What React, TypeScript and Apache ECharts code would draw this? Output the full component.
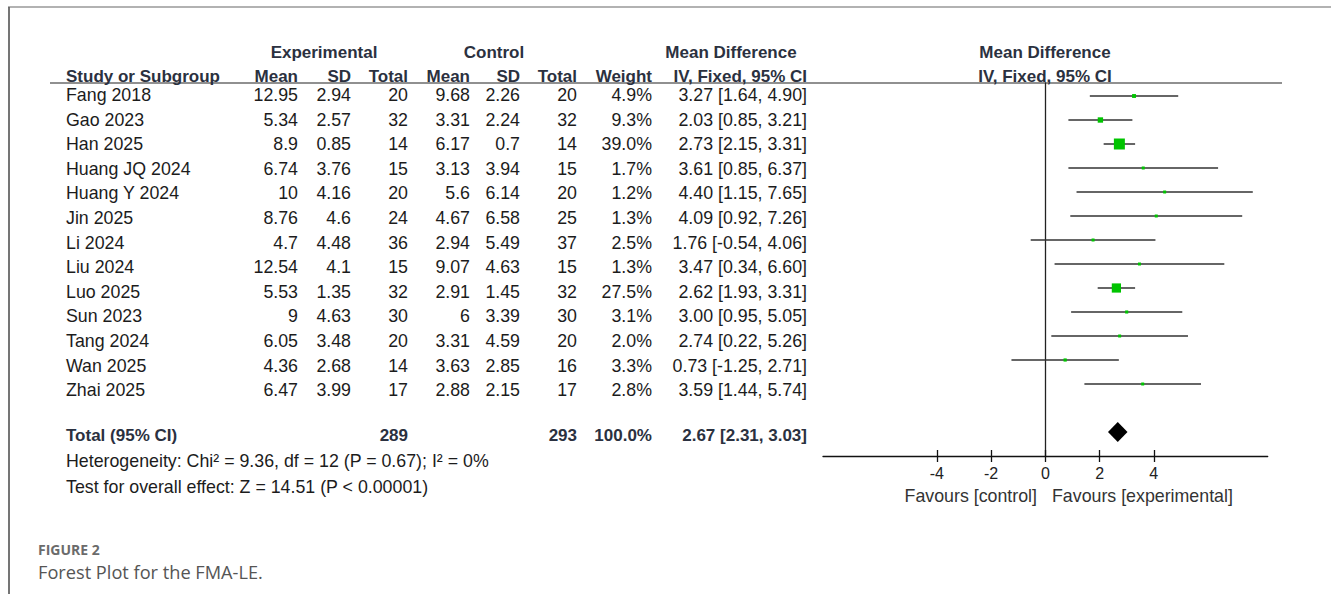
import React, { useEffect, useRef } from "react";
import * as echarts from "echarts";

const studies = ["Fang 2018", "Gao 2023", "Han 2025", "Huang JQ 2024", "Huang Y 2024", "Jin 2025", "Li 2024", "Liu 2024", "Luo 2025", "Sun 2023", "Tang 2024", "Wan 2025", "Zhai 2025"];
const expMean = [12.95, 5.34, 8.9, 6.74, 10, 8.76, 4.7, 12.54, 5.53, 9, 6.05, 4.36, 6.47];
const expSD = [2.94, 2.57, 0.85, 3.76, 4.16, 4.6, 4.48, 4.1, 1.35, 4.63, 3.48, 2.68, 3.99];
const expTotal = [20, 32, 14, 15, 20, 24, 36, 15, 32, 30, 20, 14, 17];
const ctrlMean = [9.68, 3.31, 6.17, 3.13, 5.6, 4.67, 2.94, 9.07, 2.91, 6, 3.31, 3.63, 2.88];
const ctrlSD = [2.26, 2.24, 0.7, 3.94, 6.14, 6.58, 5.49, 4.63, 1.45, 3.39, 4.59, 2.85, 2.15];
const ctrlTotal = [20, 32, 14, 15, 20, 25, 37, 15, 32, 30, 20, 16, 17];
const weights = [4.9, 9.3, 39.0, 1.7, 1.2, 1.3, 2.5, 1.3, 27.5, 3.1, 2.0, 3.3, 2.8];
const md = [3.27, 2.03, 2.73, 3.61, 4.40, 4.09, 1.76, 3.47, 2.62, 3.00, 2.74, 0.73, 3.59];
const ciLow = [1.64, 0.85, 2.15, 0.85, 1.15, 0.92, -0.54, 0.34, 1.93, 0.95, 0.22, -1.25, 1.44];
const ciHigh = [4.90, 3.21, 3.31, 6.37, 7.65, 7.26, 4.06, 6.60, 3.31, 5.05, 5.26, 2.71, 5.74];

const totalExpN = 289;
const totalCtrlN = 293;
const totalWeight = 100.0;
const pooled = [2.67, 2.31, 3.03];
const heterogeneityText = "Heterogeneity: Chi² = 9.36, df = 12 (P = 0.67); I² = 0%";
const overallText = "Test for overall effect: Z = 14.51 (P < 0.00001)";
const xTicks = [-4, -2, 0, 2, 4];
const favourLeft = "Favours [control]";
const favourRight = "Favours [experimental]";

const FONT = "'Liberation Sans', Arial, sans-serif";
const HEAD = "#2b3140";
const BODY = "#1c1c1c";
const REG = 17.8;

export default function App() {
  const ref = useRef<HTMLDivElement>(null);
  useEffect(() => {
    if (!ref.current) return;
    const chart = echarts.init(ref.current, undefined, { renderer: "svg" });

    const rowY = (i: number) => 95 + 24.6 * i;
    const cols = { study: 66, eM: 298, eS: 351, eT: 408, cM: 470, cS: 520, cT: 577, w: 652, ci: 807 };

    const txt = (text: string, x: number, y: number, align: string, bold = false, color = BODY, size = REG, family = FONT) => ({
      type: "text",
      x,
      y,
      silent: true,
      style: {
        text,
        fill: color,
        font: `${bold ? "bold " : ""}${size}px ${family}`,
        textAlign: align,
        textVerticalAlign: "middle",
      },
    });

    const graphics: any[] = [];
    graphics.push({ type: "line", shape: { x1: 8, y1: 7, x2: 1331, y2: 7 }, style: { stroke: "#666", lineWidth: 1.2 } });
    graphics.push({ type: "line", shape: { x1: 9, y1: 7, x2: 9, y2: 594 }, style: { stroke: "#666", lineWidth: 1.8 } });
    graphics.push({ type: "line", shape: { x1: 50, y1: 83, x2: 1282, y2: 83 }, style: { stroke: "#222", lineWidth: 1.2 } });
    graphics.push(txt("Experimental", 324, 52, "center", true, HEAD, 17));
    graphics.push(txt("Control", 494, 52, "center", true, HEAD, 17));
    graphics.push(txt("Mean Difference", 731, 52, "center", true, HEAD, 17));
    graphics.push(txt("Mean Difference", 1045, 52, "center", true, HEAD, 17));
    graphics.push(txt("Study or Subgroup", cols.study, 76, "left", true, HEAD, 17));
    graphics.push(txt("Mean", cols.eM, 76, "right", true, HEAD, 17));
    graphics.push(txt("SD", cols.eS, 76, "right", true, HEAD, 17));
    graphics.push(txt("Total", cols.eT, 76, "right", true, HEAD, 17));
    graphics.push(txt("Mean", cols.cM, 76, "right", true, HEAD, 17));
    graphics.push(txt("SD", cols.cS, 76, "right", true, HEAD, 17));
    graphics.push(txt("Total", cols.cT, 76, "right", true, HEAD, 17));
    graphics.push(txt("Weight", cols.w, 76, "right", true, HEAD, 17));
    graphics.push(txt("IV, Fixed, 95% CI", cols.ci, 76, "right", true, HEAD, 17));
    graphics.push(txt("IV, Fixed, 95% CI", 1045, 76, "center", true, HEAD, 17));

    studies.forEach((s, i) => {
      const y = rowY(i);
      graphics.push(txt(s, cols.study, y, "left"));
      graphics.push(txt(String(expMean[i]), cols.eM, y, "right"));
      graphics.push(txt(String(expSD[i]), cols.eS, y, "right"));
      graphics.push(txt(String(expTotal[i]), cols.eT, y, "right"));
      graphics.push(txt(String(ctrlMean[i]), cols.cM, y, "right"));
      graphics.push(txt(String(ctrlSD[i]), cols.cS, y, "right"));
      graphics.push(txt(String(ctrlTotal[i]), cols.cT, y, "right"));
      graphics.push(txt(weights[i].toFixed(1) + "%", cols.w, y, "right"));
      graphics.push(txt(`${md[i].toFixed(2)} [${ciLow[i].toFixed(2)}, ${ciHigh[i].toFixed(2)}]`, cols.ci, y, "right"));
    });

    const ty = 435;
    graphics.push(txt("Total (95% CI)", cols.study, ty, "left", true, HEAD, 17));
    graphics.push(txt(String(totalExpN), cols.eT, ty, "right", true, HEAD, 17));
    graphics.push(txt(String(totalCtrlN), cols.cT, ty, "right", true, HEAD, 17));
    graphics.push(txt(totalWeight.toFixed(1) + "%", cols.w, ty, "right", true, HEAD, 17));
    graphics.push(txt(`${pooled[0].toFixed(2)} [${pooled[1].toFixed(2)}, ${pooled[2].toFixed(2)}]`, cols.ci, ty, "right", true, HEAD, 17));
    graphics.push(txt(heterogeneityText, cols.study, 461, "left"));
    graphics.push(txt(overallText, cols.study, 487, "left"));

    graphics.push(txt(favourLeft, 1037, 496, "right", false, "#333"));
    graphics.push(txt(favourRight, 1052, 496, "left", false, "#333"));

    graphics.push(txt("FIGURE 2", 38, 549, "left", true, "#6b6b6b", 14, "'Open Sans', sans-serif"));
    graphics.push(txt("Forest Plot for the FMA-LE.", 38, 572, "left", false, "#555", 18.2, "'Open Sans', sans-serif"));

    const studyData = studies.map((_, i) => [md[i], i, ciLow[i], ciHigh[i], weights[i]]);

    const option: any = {
      animation: false,
      backgroundColor: "#fff",
      grid: { left: 823, right: 63.3, top: 83, bottom: 138, containLabel: false },
      xAxis: [
        {
          type: "value",
          min: -8.2,
          max: 8.2,
          position: "bottom",
          splitLine: { show: false },
          axisLine: { show: true, onZero: false, lineStyle: { color: "#111", width: 1.3 } },
          axisTick: { show: true, customValues: xTicks, length: 6, lineStyle: { color: "#111", width: 1.3 } },
          axisLabel: { show: true, customValues: xTicks, margin: 9, color: "#222", fontSize: 16, fontFamily: FONT },
        },
        {
          type: "value",
          min: -8.2,
          max: 8.2,
          position: "bottom",
          splitLine: { show: false },
          axisLine: { show: false, onZero: false },
          axisTick: { show: true, inside: true, customValues: xTicks, length: 6, lineStyle: { color: "#111", width: 1.3 } },
          axisLabel: { show: false },
        },
      ],
      yAxis: {
        type: "value",
        inverse: true,
        min: -0.5417,
        max: 15,
        splitLine: { show: false },
        axisTick: { show: false },
        axisLabel: { show: false },
        axisLine: { show: true, onZero: true, lineStyle: { color: "#222", width: 1.3 } },
      },
      graphic: { elements: graphics },
      series: [
        {
          type: "custom",
          data: studyData,
          clip: false,
          renderItem: (_p: any, api: any) => {
            const y = api.value(1);
            const c = api.coord([api.value(0), y]);
            const l = api.coord([api.value(2), y]);
            const h = api.coord([api.value(3), y]);
            const s = Math.max(3, 1.76 * Math.sqrt(api.value(4)));
            return {
              type: "group",
              children: [
                { type: "line", shape: { x1: l[0], y1: l[1], x2: h[0], y2: h[1] }, style: { stroke: "#333", lineWidth: 1.3 } },
                { type: "rect", shape: { x: c[0] - s / 2, y: c[1] - s / 2, width: s, height: s }, style: { fill: "#00c400" } },
              ],
            };
          },
        },
        {
          type: "custom",
          data: [[pooled[0], 14, pooled[1], pooled[2]]],
          clip: false,
          renderItem: (_p: any, api: any) => {
            const y = api.value(1);
            const c = api.coord([api.value(0), y]);
            const l = api.coord([api.value(2), y]);
            const h = api.coord([api.value(3), y]);
            const hh = 10;
            return {
              type: "polygon",
              shape: { points: [[l[0], c[1]], [c[0], c[1] - hh], [h[0], c[1]], [c[0], c[1] + hh]] },
              style: { fill: "#000" },
            };
          },
        },
      ],
    };
    chart.setOption(option);
    return () => chart.dispose();
  }, []);

  return <div ref={ref} style={{ position: "fixed", left: 0, top: 0, width: 1331, height: 594 }} />;
}
